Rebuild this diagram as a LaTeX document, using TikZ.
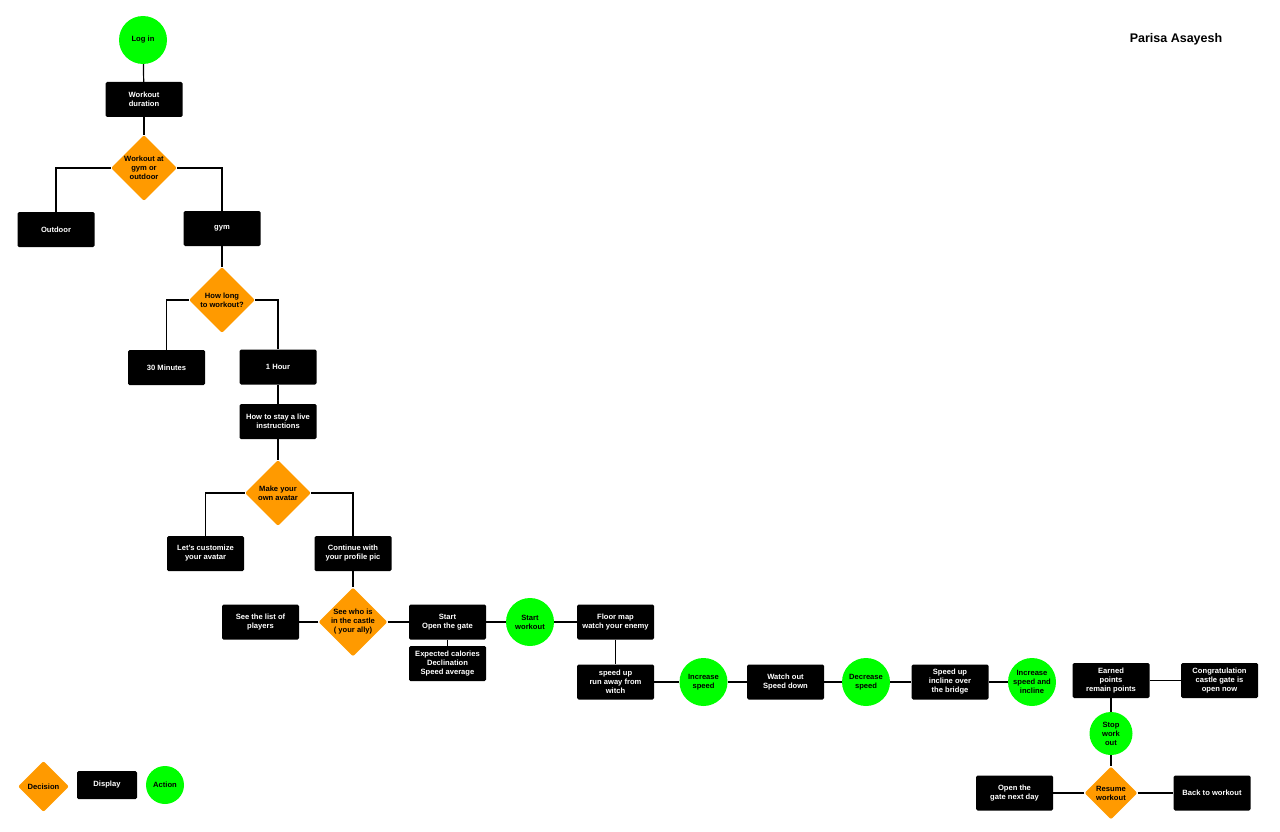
\documentclass[tikz,border=0pt]{standalone}
\usepackage{fontspec}
\setmainfont{Liberation Sans}
\usetikzlibrary{shapes.geometric}
\definecolor{actgreen}{HTML}{00FF00}
\definecolor{decorange}{HTML}{FF9A00}

\begin{document}
\begin{tikzpicture}[
    x=1pt, y=-1pt,
    font=\fontsize{7.6}{9}\selectfont\bfseries,
    disp/.style={fill=black, text=white, rounded corners=1.5, minimum width=77,
                 minimum height=35, inner sep=0, align=center},
    act/.style={circle, fill=actgreen, minimum size=48, inner sep=0, align=center},
    dec/.style={diamond, fill=decorange, rounded corners=2, minimum size=66,
                inner sep=0, align=center},
    link/.style={line width=1.2}
  ]
    \useasboundingbox (0,0) rectangle (1280,832);

    \node[font=\fontsize{12.5}{15}\selectfont\bfseries] (author) at (1176,39) {Parisa Asayesh};

    % left column
    \node[act]  (login)    at (143,40)    {Log in};
    \node[disp] (duration) at (144,99.5)  {Workout\\duration};
    \node[dec]  (place)    at (144,168)   {Workout at\\gym or\\outdoor};
    \node[disp] (outdoor)  at (56,229.5)  {Outdoor};
    \node[disp] (gym)      at (222,228.5) {gym};
    \node[dec]  (howlong)  at (222,300)   {How long\\to workout?};
    \node[disp] (halfhour) at (166.5,367.5) {30 Minutes};
    \node[disp] (onehour)  at (278,367)   {1 Hour};
    \node[disp] (howto)    at (278,421.5) {How to stay a live\\instructions};
    \node[dec]  (avatar)   at (278,493)   {Make your\\own avatar};
    \node[disp] (custom)   at (205.5,553.5) {Let's customize\\your avatar};
    \node[disp] (profile)  at (353,553.5) {Continue with\\your profile pic};

    \draw[link] (login) -- (duration);
    \draw[link] (duration) -- (place);
    \draw[link] (place.west) -| (outdoor.north);
    \draw[link] (place.east) -| (gym.north);
    \draw[link] (gym) -- (howlong);
    \draw[link] (howlong.west) -| (halfhour.north);
    \draw[link] (howlong.east) -| (onehour.north);
    \draw[link] (onehour) -- (howto);
    \draw[link] (howto) -- (avatar);
    \draw[link] (avatar.west) -| (custom.north);
    \draw[link] (avatar.east) -| (profile.north);

    % game row
    \node[dec]  (castle)   at (353,622)   {See who is\\in the castle\\( your ally)};
    \node[disp] (players)  at (260.5,622) {See the list of\\players};
    \node[disp] (gate)     at (447.5,622) {Start\\Open the gate};
    \node[disp] (stats)    at (447.5,663.5) {Expected calories\\Declination\\Speed average};
    \node[act]  (start)    at (530,622)   {Start\\workout};
    \node[disp] (floormap) at (615.5,622) {Floor map\\watch your enemy};

    \draw[link] (profile) -- (castle);
    \draw[link] (castle) -- (players);
    \draw[link] (castle) -- (gate);
    \draw[link] (gate) -- (stats);
    \draw[link] (gate) -- (start);
    \draw[link] (start) -- (floormap);

    \node[disp] (runaway)  at (615.5,682) {speed up\\run away from\\witch};
    \node[act]  (faster)   at (703.5,682) {Increase\\speed};
    \node[disp] (watchout) at (785.5,682) {Watch out\\Speed down};
    \node[act]  (slower)   at (866,682)   {Decrease\\speed};
    \node[disp] (bridge)   at (950,682)   {Speed up\\incline over\\the bridge};
    \node[act]  (incline)  at (1032,682)  {Increase\\speed and\\incline};

    \draw[link] (floormap) -- (runaway);
    \draw[link] (runaway) -- (faster);
    \draw[link] (faster) -- (watchout);
    \draw[link] (watchout) -- (slower);
    \draw[link] (slower) -- (bridge);
    \draw[link] (bridge) -- (incline);

    % end of workout
    \node[disp] (earned)   at (1111,680.5) {Earned\\points\\remain points};
    \node[disp] (congrats) at (1219.5,680.5) {Congratulation\\castle gate is\\open now};
    \node[act, minimum size=43] (stop) at (1111,733.5) {Stop\\work\\out};
    \node[dec, minimum size=53] (resume) at (1111,793) {Resume\\workout};
    \node[disp] (nextday)  at (1014.5,793) {Open the\\gate next day};
    \node[disp] (back)     at (1212,793)   {Back to workout};

    \draw[link] (earned) -- (congrats);
    \draw[link] (earned) -- (stop);
    \draw[link] (stop) -- (resume);
    \draw[link] (resume) -- (nextday);
    \draw[link] (resume) -- (back);

    % legend
    \node[dec, minimum size=51] (keydec) at (43.5,786.5) {Decision};
    \node[disp, minimum width=60, minimum height=28] (keydisp) at (107,785) {Display};
    \node[act, minimum size=38] (keyact) at (165,785) {Action};
  \end{tikzpicture}
\end{document}
